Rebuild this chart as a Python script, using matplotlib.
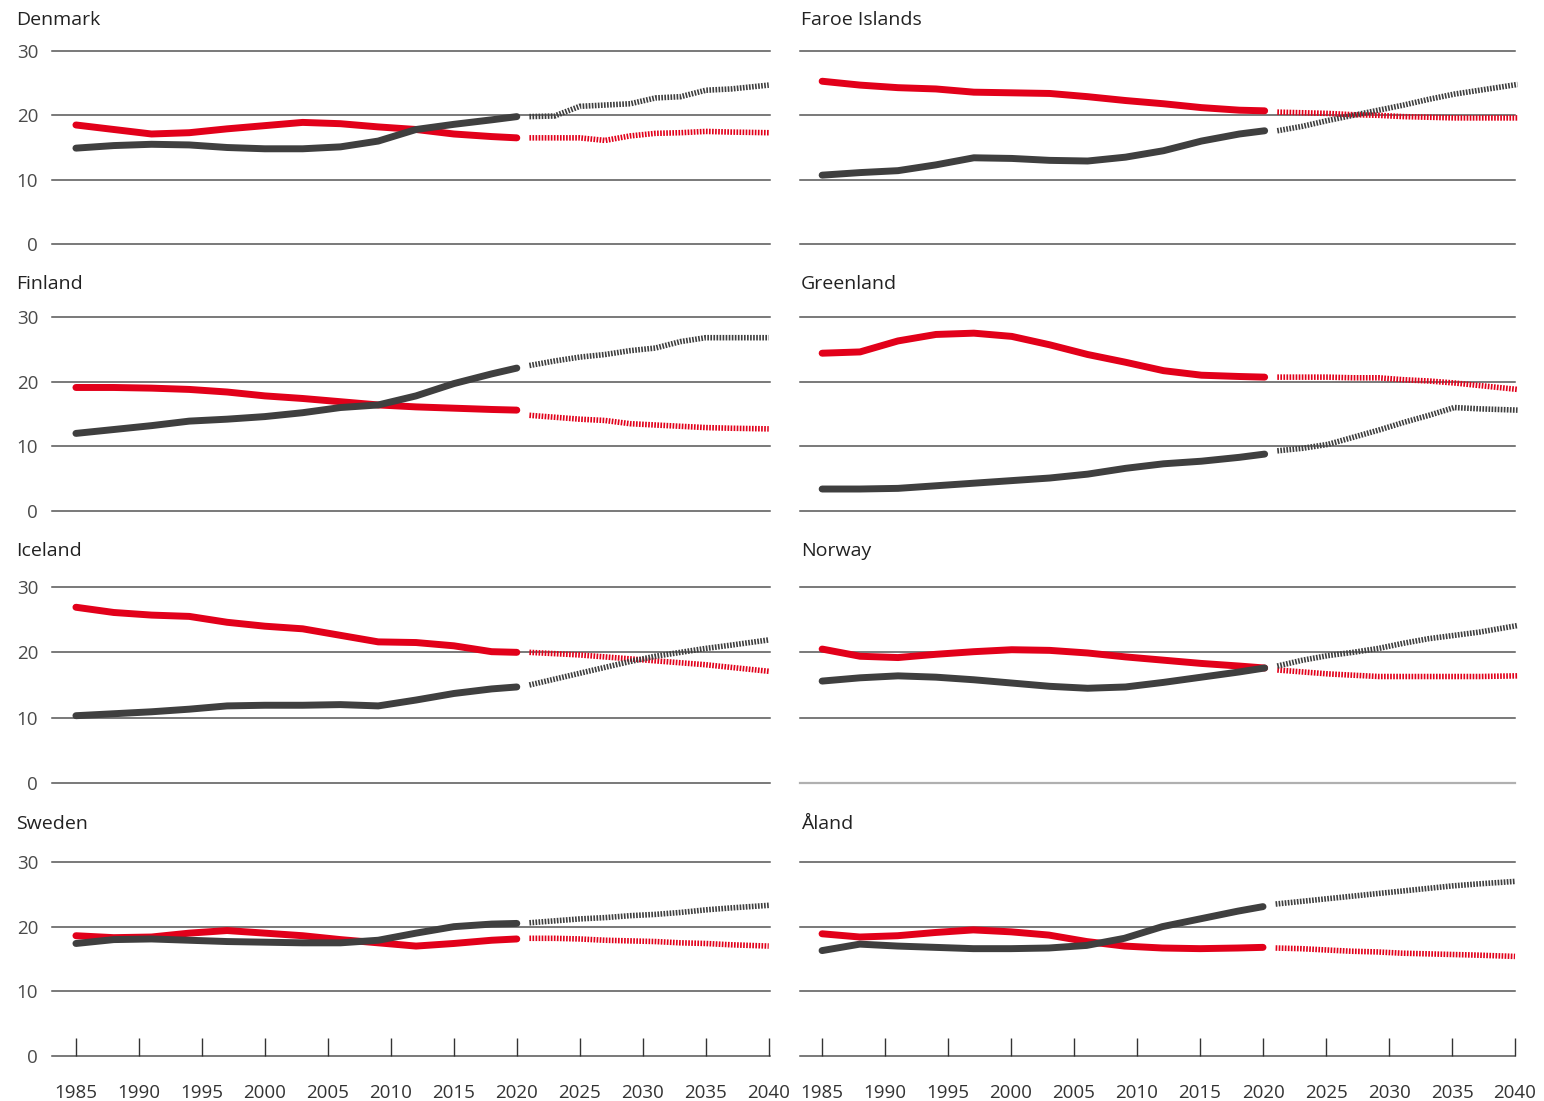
import matplotlib
matplotlib.use("Agg")
import matplotlib.pyplot as plt

plt.rcParams['font.family'] = ['Open Sans', 'DejaVu Sans']

# years
hist_years = [1985, 1988, 1991, 1994, 1997, 2000, 2003, 2006, 2009, 2012, 2015, 2018, 2020]
proj_years = [2021, 2023, 2025, 2027, 2029, 2031, 2033, 2035, 2037, 2040]
tick_years = list(range(1985, 2041, 5))

countries = ["Denmark", "Faroe Islands", "Finland", "Greenland",
             "Iceland", "Norway", "Sweden", "Åland"]

# red series (hist, projection)
dk_red = [18.5, 17.8, 17.1, 17.3, 17.9, 18.4, 18.9, 18.7, 18.2, 17.8, 17.1, 16.7, 16.5]
dk_red_p = [16.5, 16.5, 16.5, 16.1, 16.8, 17.2, 17.3, 17.5, 17.4, 17.3]
fo_red = [25.3, 24.7, 24.3, 24.1, 23.6, 23.5, 23.4, 22.9, 22.3, 21.8, 21.2, 20.8, 20.7]
fo_red_p = [20.5, 20.4, 20.3, 20.1, 20.0, 19.8, 19.7, 19.6, 19.6, 19.6]
fi_red = [19.1, 19.1, 19.0, 18.8, 18.4, 17.8, 17.4, 16.9, 16.4, 16.1, 15.9, 15.7, 15.6]
fi_red_p = [14.8, 14.5, 14.2, 14.0, 13.5, 13.3, 13.1, 12.9, 12.8, 12.7]
gl_red = [24.4, 24.6, 26.3, 27.3, 27.5, 27.0, 25.7, 24.2, 23.0, 21.7, 21.0, 20.8, 20.7]
gl_red_p = [20.7, 20.7, 20.7, 20.6, 20.6, 20.3, 20.1, 19.8, 19.4, 18.8]
is_red = [26.9, 26.1, 25.7, 25.5, 24.6, 24.0, 23.6, 22.6, 21.6, 21.5, 21.0, 20.1, 20.0]
is_red_p = [20.0, 19.8, 19.6, 19.3, 19.0, 18.7, 18.4, 18.1, 17.7, 17.1]
no_red = [20.5, 19.4, 19.2, 19.7, 20.1, 20.4, 20.3, 19.9, 19.3, 18.8, 18.3, 17.9, 17.6]
no_red_p = [17.3, 17.0, 16.7, 16.5, 16.3, 16.3, 16.3, 16.3, 16.3, 16.4]
se_red = [18.6, 18.3, 18.4, 19.0, 19.4, 19.0, 18.6, 18.0, 17.5, 17.0, 17.4, 17.9, 18.1]
se_red_p = [18.2, 18.2, 18.1, 17.9, 17.8, 17.7, 17.5, 17.4, 17.2, 17.0]
ax_red = [18.9, 18.4, 18.6, 19.1, 19.5, 19.2, 18.7, 17.7, 17.0, 16.7, 16.6, 16.7, 16.8]
ax_red_p = [16.7, 16.6, 16.4, 16.2, 16.1, 15.9, 15.8, 15.7, 15.6, 15.4]

# dark grey series (hist, projection)
dk_grey = [14.9, 15.3, 15.5, 15.4, 15.0, 14.8, 14.8, 15.1, 16.0, 17.8, 18.6, 19.3, 19.8]
dk_grey_p = [19.8, 19.9, 21.4, 21.6, 21.8, 22.7, 22.9, 23.9, 24.1, 24.7]
fo_grey = [10.7, 11.1, 11.4, 12.3, 13.4, 13.3, 13.0, 12.9, 13.5, 14.5, 16.0, 17.1, 17.6]
fo_grey_p = [17.6, 18.3, 19.2, 20.0, 20.8, 21.6, 22.5, 23.3, 23.9, 24.8]
fi_grey = [12.0, 12.6, 13.2, 13.9, 14.2, 14.6, 15.2, 16.0, 16.4, 17.8, 19.7, 21.2, 22.1]
fi_grey_p = [22.5, 23.2, 23.8, 24.2, 24.8, 25.2, 26.2, 26.8, 26.8, 26.8]
gl_grey = [3.4, 3.4, 3.5, 3.9, 4.3, 4.7, 5.1, 5.7, 6.6, 7.3, 7.7, 8.3, 8.8]
gl_grey_p = [9.3, 9.7, 10.3, 11.4, 12.5, 13.7, 14.8, 16.0, 15.8, 15.6]
is_grey = [10.3, 10.6, 10.9, 11.3, 11.8, 11.9, 11.9, 12.0, 11.8, 12.7, 13.7, 14.4, 14.7]
is_grey_p = [15.0, 15.9, 16.8, 17.7, 18.6, 19.4, 20.0, 20.6, 21.1, 21.9]
no_grey = [15.6, 16.1, 16.4, 16.2, 15.8, 15.3, 14.8, 14.5, 14.7, 15.4, 16.2, 17.0, 17.6]
no_grey_p = [17.9, 18.8, 19.5, 20.0, 20.6, 21.4, 22.1, 22.6, 23.1, 24.1]
se_grey = [17.4, 18.0, 18.1, 17.9, 17.7, 17.6, 17.5, 17.5, 17.9, 19.0, 20.0, 20.4, 20.5]
se_grey_p = [20.6, 20.9, 21.2, 21.4, 21.7, 21.9, 22.2, 22.6, 22.9, 23.3]
ax_grey = [16.3, 17.3, 17.0, 16.8, 16.6, 16.6, 16.7, 17.1, 18.2, 20.0, 21.2, 22.4, 23.1]
ax_grey_p = [23.5, 23.9, 24.3, 24.7, 25.1, 25.5, 25.9, 26.3, 26.6, 27.0]

red_hist = [dk_red, fo_red, fi_red, gl_red, is_red, no_red, se_red, ax_red]
red_proj = [dk_red_p, fo_red_p, fi_red_p, gl_red_p, is_red_p, no_red_p, se_red_p, ax_red_p]
grey_hist = [dk_grey, fo_grey, fi_grey, gl_grey, is_grey, no_grey, se_grey, ax_grey]
grey_proj = [dk_grey_p, fo_grey_p, fi_grey_p, gl_grey_p, is_grey_p, no_grey_p, se_grey_p, ax_grey_p]

RED = "#e2001a"
GREY = "#3f3f3f"
GRID = "#555555"
W, H = 1544, 1101

fig = plt.figure(figsize=(W / 100, H / 100), dpi=100)

rows = [(51, 244), (317, 511), (587, 783), (862, 1056)]
cols = [(52, 770, (1983.1, 2040.1)), (800, 1515, (1983.25, 2039.8))]
title_y = [20, 284, 551, 824]
title_x = [16, 801]

for i, name in enumerate(countries):
    r, c = divmod(i, 2)
    top, bot = rows[r]
    left, right, xl = cols[c]
    ax = fig.add_axes([left / W, 1 - bot / H, (right - left) / W, (bot - top) / H])
    ax.set_xlim(*xl)
    ax.set_ylim(0, 30)
    for s in ax.spines.values():
        s.set_visible(False)
    ax.set_yticks([0, 10, 20, 30])
    ax.tick_params(axis="y", length=0, pad=10, labelsize=13.5, labelcolor="#4a4a4a")
    if c == 1:
        ax.tick_params(axis="y", labelleft=False)

    # gridlines (the 0 line in Norway is lighter in the original)
    for v in [0, 10, 20, 30]:
        col = "#b0b0b0" if (name == "Norway" and v == 0) else GRID
        ax.axhline(v, color=col, lw=1.1 if col == GRID else 1.6, clip_on=False, zorder=1)

    ax.plot(hist_years, red_hist[i], color=RED, lw=5.0, solid_capstyle="round",
            solid_joinstyle="round", clip_on=False, zorder=3)
    ax.plot(hist_years, grey_hist[i], color=GREY, lw=5.0, solid_capstyle="round",
            solid_joinstyle="round", clip_on=False, zorder=3)
    ax.plot(proj_years, red_proj[i], color=RED, lw=4.0, ls=(0, (0.3, 0.25)), clip_on=False, zorder=3)
    ax.plot(proj_years, grey_proj[i], color=GREY, lw=4.0, ls=(0, (0.3, 0.25)), clip_on=False, zorder=3)

    if r == 3:
        ax.set_xticks(tick_years)
        ax.tick_params(axis="x", direction="in", length=13, width=1.0, color="#333333",
                       pad=20, labelsize=13.5, labelcolor="#333333")
    else:
        ax.set_xticks([])

    fig.text(title_x[c] / W, 1 - title_y[i // 2] / H, name, fontsize=14,
             color="#222222", va="center", ha="left")

fig.savefig("out.png", dpi=100)
